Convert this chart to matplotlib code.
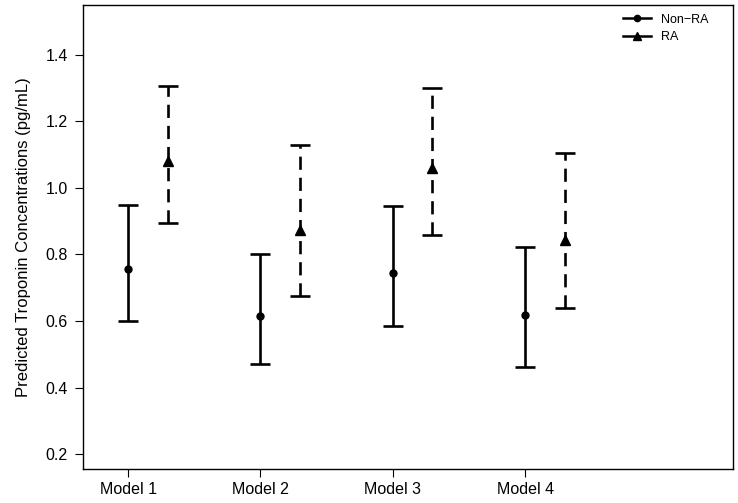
import matplotlib
matplotlib.use("Agg")
from matplotlib import pyplot as plt
from matplotlib.lines import Line2D

models = ["Model 1", "Model 2", "Model 3", "Model 4"]

non_ra_mean = [0.755, 0.615, 0.745, 0.618]
non_ra_low = [0.600, 0.470, 0.585, 0.463]
non_ra_high = [0.950, 0.800, 0.947, 0.823]

ra_mean = [1.080, 0.875, 1.060, 0.843]
ra_low = [0.895, 0.675, 0.860, 0.640]
ra_high = [1.305, 1.128, 1.300, 1.105]

plt.rcParams["font.family"] = ["Liberation Sans", "DejaVu Sans"]

fig = plt.figure(figsize=(7.38, 5.03), dpi=100)
ax = fig.add_axes([83 / 738, 34 / 503, 650 / 738, 464 / 503])

x = list(range(1, len(models) + 1))
x_ra = [v + 0.3 for v in x]

# Non-RA: solid bars, circle marker
err_non = [[m - l for m, l in zip(non_ra_mean, non_ra_low)],
           [h - m for m, h in zip(non_ra_mean, non_ra_high)]]
ax.errorbar(x, non_ra_mean, yerr=err_non, fmt="o", color="black",
            ms=5, elinewidth=1.9, capsize=7, capthick=1.9)

# RA: dashed bars, triangle marker
err_ra = [[m - l for m, l in zip(ra_mean, ra_low)],
          [h - m for m, h in zip(ra_mean, ra_high)]]
eb = ax.errorbar(x_ra, ra_mean, yerr=err_ra, fmt="^", color="black",
                 ms=6.5, elinewidth=1.9, capsize=7, capthick=1.9)
for coll in eb[2]:
    coll.set_linestyle((0, (5, 3)))

ax.set_xlim(0.66, 5.57)
ax.set_ylim(0.155, 1.55)
ax.set_xticks(x)
ax.set_xticklabels(models)
ax.set_yticks([0.2, 0.4, 0.6, 0.8, 1.0, 1.2, 1.4])
ax.set_yticklabels(["0.2", "0.4", "0.6", "0.8", "1.0", "1.2", "1.4"])
ax.tick_params(axis="both", direction="out", length=6, width=0.8,
               labelsize=11.5, colors="black", pad=5)
ax.tick_params(axis="x", pad=3)
for s in ax.spines.values():
    s.set_linewidth(1.0)
ax.set_ylabel("Predicted Troponin Concentrations (pg/mL)", fontsize=12, labelpad=10)

handles = [
    Line2D([], [], color="black", marker="o", ms=4.5, lw=1.8, linestyle="-"),
    Line2D([], [], color="black", marker="^", ms=5.5, lw=1.8, linestyle="-"),
]
ax.legend(handles, ["Non\u2212RA", "RA"], loc="upper right", frameon=False,
          fontsize=9, handlelength=2.2, handletextpad=0.8, borderaxespad=0.3,
          labelspacing=0.45, bbox_to_anchor=(0.975, 1.0))

fig.savefig("out.png", dpi=100)
